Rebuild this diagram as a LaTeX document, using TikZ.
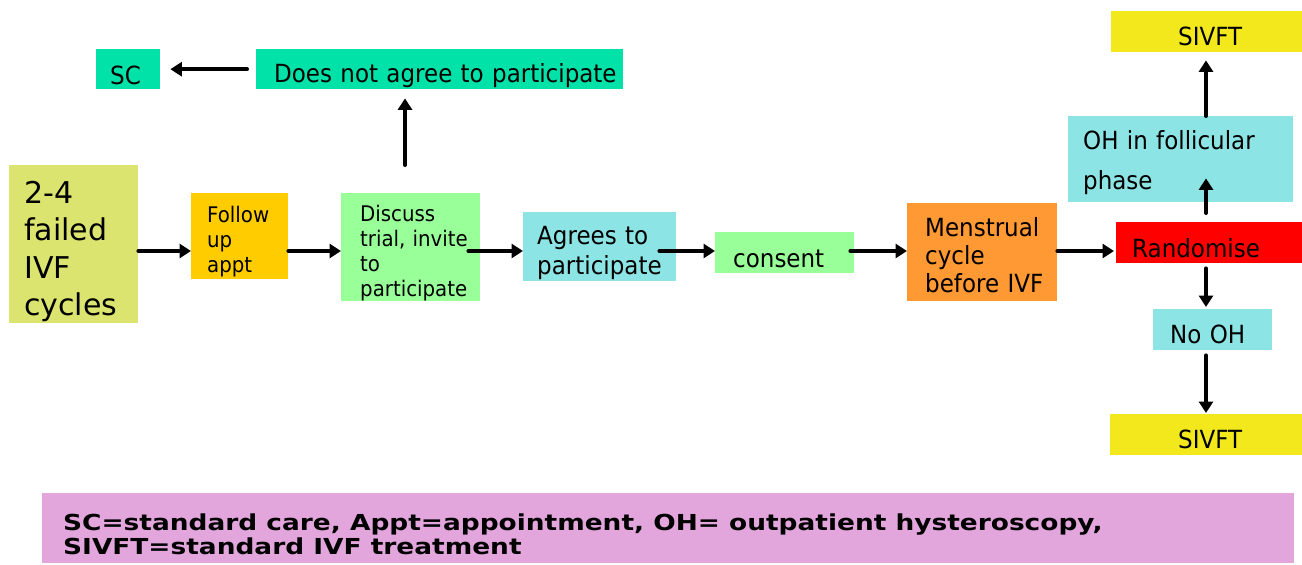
\documentclass[tikz,border=0pt]{standalone}
\usepackage{fontspec}
\setmainfont{DejaVu Sans}[FakeStretch=0.92]
\newfontfamily\plainfont{DejaVu Sans}
\newfontfamily\legfont{DejaVu Sans}[FakeStretch=1.2]
\usetikzlibrary{arrows.meta,calc}
\definecolor{cteal}{RGB}{0,226,168}
\definecolor{colive}{RGB}{220,228,112}
\definecolor{cgold}{RGB}{255,204,0}
\definecolor{cgreen}{RGB}{153,255,153}
\definecolor{ccyan}{RGB}{141,228,228}
\definecolor{corange}{RGB}{255,153,51}
\definecolor{cred}{RGB}{255,0,0}
\definecolor{cyellow}{RGB}{242,232,28}
\definecolor{cpink}{RGB}{226,166,220}
% strut that lowers a centred text block by half of #1
\newcommand\dn[1]{\rule{0pt}{\dimexpr 0.76em+#1\relax}}
\begin{document}
\begin{tikzpicture}[x=1pt,y=-1pt,
  box/.style={anchor=north west, align=left, inner ysep=0pt, font=\fontsize{25}{30}\selectfont},
  arr/.style={line width=4pt, -{Triangle[length=11.5pt,width=14pt]}, line cap=round}]
\useasboundingbox (0,0) rectangle (1302,565);

% top row
\node[box, fill=cteal, text width=36pt, inner xsep=14pt, minimum height=40pt] (sc) at (96,49) {\dn{12pt}SC};
\node[box, fill=cteal, text width=331pt, inner xsep=18pt, minimum height=40pt] (dna) at (256,49) {\dn{12pt}\mbox{Does not agree to participate}};

% main row
\node[box, fill=colive, text width=99pt, inner xsep=15pt, minimum height=158pt, font=\plainfont\fontsize{30}{37.5}\selectfont] (fail) at (9,165) {\dn{14pt}2-4\\failed\\IVF\\cycles};
\node[box, fill=cgold, text width=65pt, inner xsep=16pt, minimum height=86pt, font=\fontsize{21.5}{25}\selectfont] (follow) at (191,193) {\dn{10pt}Follow\\up\\appt};
\node[box, fill=cgreen, text width=101pt, inner xsep=19pt, minimum height=108pt, font=\fontsize{21.5}{25}\selectfont] (discuss) at (341,193) {\dn{12pt}Discuss\\\mbox{trial, invite}\\to\\\mbox{participate}};
\node[box, fill=ccyan, text width=125pt, inner xsep=14pt, minimum height=69pt, font=\fontsize{25}{30}\selectfont] (agrees) at (523,212) {\dn{12pt}\mbox{Agrees to}\\\mbox{participate}};
\node[box, fill=cgreen, text width=103pt, inner xsep=18pt, minimum height=41pt] (consent) at (715,232) {\dn{10pt}consent};
\node[box, fill=corange, text width=114pt, inner xsep=18pt, minimum height=98pt, font=\fontsize{25}{28}\selectfont] (mens) at (907,203) {\dn{6pt}Menstrual\\cycle\\\mbox{before IVF}};
\node[box, fill=cred, text width=154pt, inner xsep=16pt, minimum height=41pt] (rand) at (1116,222) {\dn{10pt}Randomise};

% right column
\node[box, fill=ccyan, text width=195pt, inner xsep=15pt, minimum height=86pt, font=\fontsize{25}{40}\selectfont] (oh) at (1068,116) {\dn{6pt}\mbox{OH in follicular}\\phase};
\node[box, fill=ccyan, text width=85pt, inner xsep=17pt, minimum height=41pt] (nooh) at (1153,309) {\dn{8pt}\mbox{No OH}};
\node[box, fill=cyellow, text width=57pt, inner xsep=67pt, minimum height=41pt] (sivfttop) at (1111,11) {\dn{8pt}SIVFT};
\node[box, fill=cyellow, text width=56pt, inner xsep=68pt, minimum height=41pt] (sivftbot) at (1110,414) {\dn{8pt}SIVFT};

% legend
\node[anchor=north west, fill=cpink, minimum width=1252pt, minimum height=70pt, inner sep=0pt] (legend) at (42,493) {};
\node[anchor=west, align=left, inner sep=0pt, font=\legfont\bfseries\fontsize{22}{24}\selectfont] (legendtext) at ($(legend.west)+(21,6)$) {SC=standard care, Appt=appointment, OH= outpatient hysteroscopy,\\SIVFT=standard IVF treatment};

% connectors
\coordinate (row) at (0,251);
\coordinate (colA) at (405,0);
\coordinate (colB) at (1206,0);
\draw[arr] (fail.east |- row) -- (follow.west |- row);
\draw[arr] (follow.east |- row) -- (discuss.west |- row);
\draw[arr, shorten <=-12pt] (discuss.east |- row) -- (agrees.west |- row);
\draw[arr, shorten <=-17pt] (agrees.east |- row) -- (consent.west |- row);
\draw[arr, shorten <=-4pt] (consent.east |- row) -- (mens.west |- row);
\draw[arr, shorten >=2pt] (mens.east |- row) -- (rand.west |- row);
\draw[arr, shorten <=28pt, shorten >=9pt] (discuss.north -| colA) -- (dna.south -| colA);
\draw[arr, shorten <=9pt, shorten >=10pt] (dna.west) -- (sc.east);
\draw[arr, shorten <=9pt, shorten >=-24pt] (rand.north -| colB) -- (oh.south -| colB);
\draw[arr, shorten >=8pt] (oh.north -| colB) -- (sivfttop.south -| colB);
\draw[arr, shorten <=5pt, shorten >=2pt] (rand.south -| colB) -- (nooh.north -| colB);
\draw[arr, shorten <=5pt, shorten >=1pt] (nooh.south -| colB) -- (sivftbot.north -| colB);
\end{tikzpicture}
\end{document}
